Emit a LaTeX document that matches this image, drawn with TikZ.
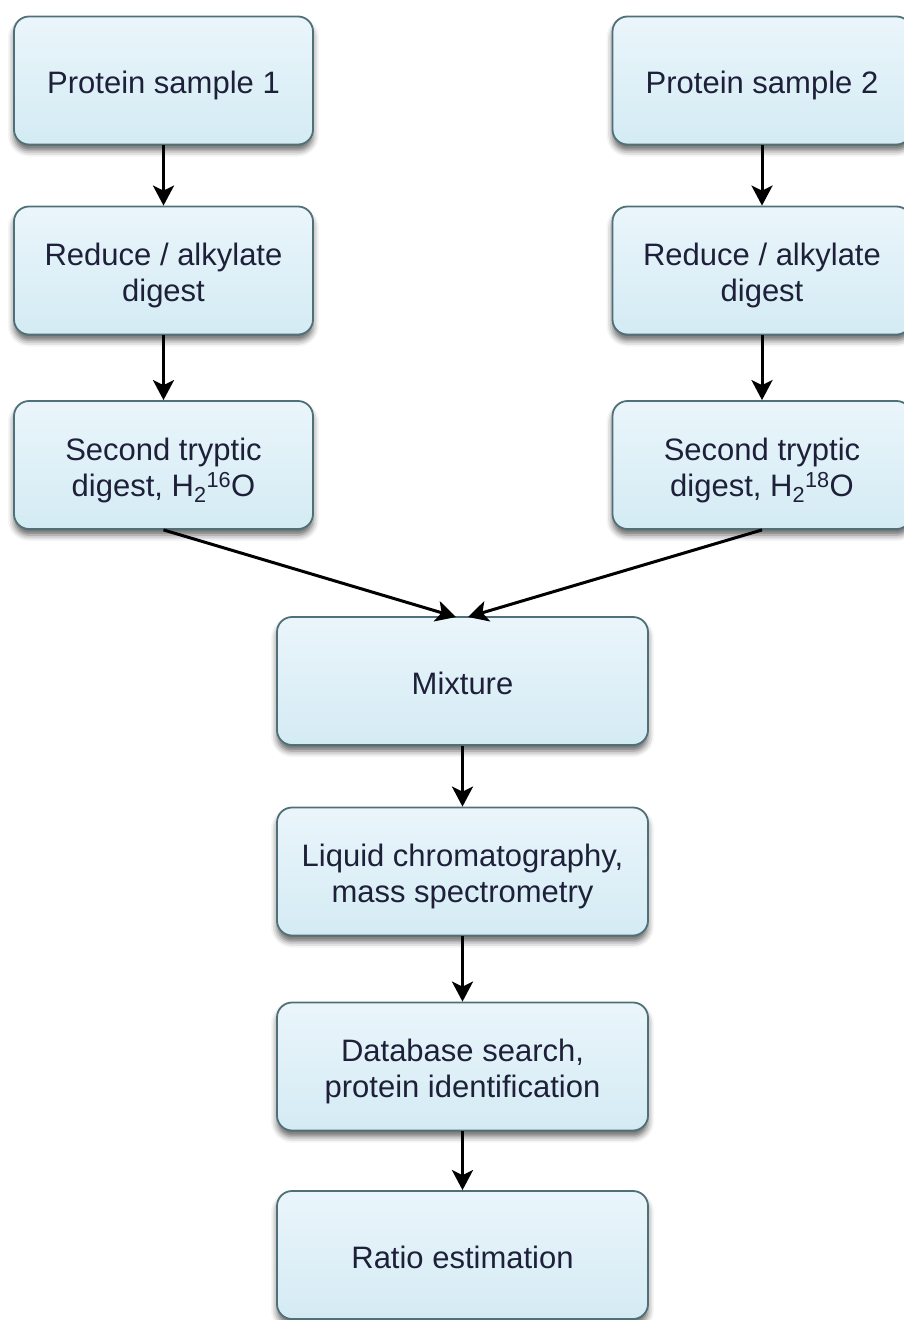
\documentclass[tikz,border=0pt]{standalone}
\usepackage{fontspec}
\setmainfont{Liberation Sans}
\usetikzlibrary{arrows.meta,shadows.blur}
\definecolor{boxline}{RGB}{78,112,118}
\definecolor{boxtop}{RGB}{234,245,251}
\definecolor{boxbot}{RGB}{212,235,244}
\definecolor{txt}{RGB}{30,32,58}
\tikzset{
  flowbox/.style={rectangle, rounded corners=15pt, draw=boxline, line width=1.8pt,
    top color=boxtop, bottom color=boxbot, text=txt, align=center,
    minimum height=128pt, inner sep=0pt,
    font=\fontsize{31}{36}\selectfont,
    blur shadow={shadow xshift=0pt, shadow yshift=-6pt, shadow blur radius=6pt, shadow opacity=60}},
  sidebox/.style={flowbox, minimum width=299pt},
  midbox/.style={flowbox, minimum width=371pt},
  conn/.style={draw=black, line width=3pt, -{Stealth[length=20pt,width=21pt,inset=5pt]}}
}
\newcommand{\hiso}[1]{H\textsubscript{2}\textsuperscript{#1}O}
\newcommand{\lbl}[1]{\raisebox{-6pt}[\height][\depth]{\begin{tabular}{@{}c@{}}#1\end{tabular}}}
\begin{document}
\begin{tikzpicture}[x=1pt,y=-1pt]
\useasboundingbox (0,0) rectangle (903,1320);
\node[sidebox] (l1) at (163.5,80.5) {\lbl{Protein sample 1}};
\node[sidebox] (l2) at (163.5,270.5) {\lbl{Reduce / alkylate\\digest}};
\node[sidebox] (l3) at (163.5,465) {\lbl{Second tryptic\\digest, \hiso{16}}};
\node[sidebox] (r1) at (762,80.5) {\lbl{Protein sample 2}};
\node[sidebox] (r2) at (762,270.5) {\lbl{Reduce / alkylate\\digest}};
\node[sidebox] (r3) at (762,465) {\lbl{Second tryptic\\digest, \hiso{18}}};
\node[midbox] (mix) at (462.5,681) {\lbl{Mixture}};
\node[midbox] (lc) at (462.5,871.5) {\lbl{Liquid chromatography,\\mass spectrometry}};
\node[midbox] (db) at (462.5,1066.5) {\lbl{Database search,\\protein identification}};
\node[midbox] (ra) at (462.5,1255) {\lbl{Ratio estimation}};
\coordinate (mL) at (456,617);
\coordinate (mR) at (468,617);
\draw[conn] (l1) -- (l2);
\draw[conn] (l2) -- (l3);
\draw[conn] (r1) -- (r2);
\draw[conn] (r2) -- (r3);
\draw[conn] (l3.south) -- (mL);
\draw[conn] (r3.south) -- (mR);
\draw[conn] (mix) -- (lc);
\draw[conn] (lc) -- (db);
\draw[conn] (db) -- (ra);
\end{tikzpicture}
\end{document}
